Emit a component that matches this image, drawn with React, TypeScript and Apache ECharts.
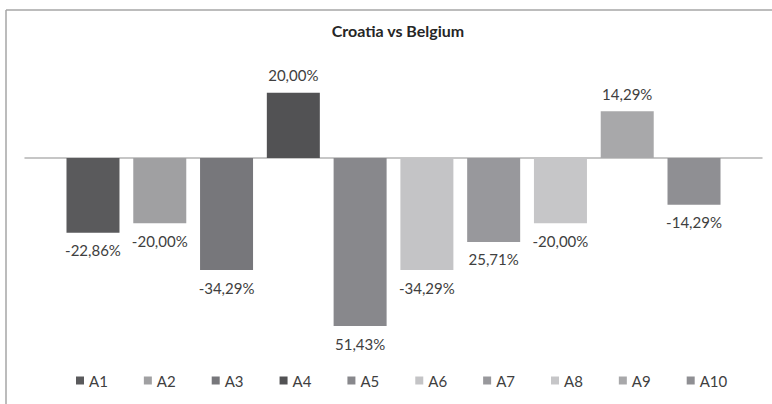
import React, { useEffect, useRef } from "react";
import * as echarts from "echarts";

const seriesNames = ["A1", "A2", "A3", "A4", "A5", "A6", "A7", "A8", "A9", "A10"];
const values = [-22.86, -20.0, -34.29, 20.0, -51.43, -34.29, -25.71, -20.0, 14.29, -14.29];
const labelTexts = ["-22,86%", "-20,00%", "-34,29%", "20,00%", "51,43%", "-34,29%", "25,71%", "-20,00%", "14,29%", "-14,29%"];
const colors = ["#5a5a5c", "#a0a0a2", "#77777b", "#525254", "#88888c", "#c4c4c6", "#98989c", "#c6c6c8", "#a8a8aa", "#8f8f93"];

const FONT = "Lato, 'Open Sans', sans-serif";

export default function App() {
  const ref = useRef<HTMLDivElement>(null);
  useEffect(() => {
    if (!ref.current) return;
    const chart = echarts.init(ref.current, undefined, { renderer: "svg" });
    chart.setOption({
      animation: false,
      backgroundColor: "#ffffff",
      title: {
        text: "Croatia vs Belgium",
        left: 393,
        textAlign: "center",
        top: 17,
        textStyle: { fontFamily: FONT, fontSize: 16, fontWeight: "bold", color: "#262626" },
      },
      legend: {
        top: 368,
        left: 71,
        icon: "rect",
        itemWidth: 8,
        itemHeight: 8,
        itemGap: 36,
        textStyle: { fontFamily: FONT, fontSize: 15, color: "#404040" },
        data: seriesNames,
      },
      grid: { left: 25, right: 10, top: 60, bottom: 50 },
      xAxis: {
        type: "category",
        data: [""],
        axisLine: { onZero: true, lineStyle: { color: "#b4b4b4", width: 1.5 } },
        axisTick: { show: false },
        axisLabel: { show: false },
      },
      yAxis: {
        type: "value",
        min: -60,
        max: 30,
        show: false,
        splitLine: { show: false },
      },
      graphic: [
        { type: "line", shape: { x1: 6, y1: 10, x2: 772, y2: 10 }, style: { stroke: "#a6a6a6", lineWidth: 1.5 } },
        { type: "line", shape: { x1: 6, y1: 10, x2: 6, y2: 404 }, style: { stroke: "#a6a6a6", lineWidth: 1.5 } },
      ],
      series: seriesNames.map((name, i) => ({
        name,
        type: "bar",
        data: [values[i]],
        barWidth: 53,
        barGap: "26%",
        itemStyle: { color: colors[i] },
        label: {
          show: true,
          position: values[i] >= 0 ? "top" : "bottom",
          distance: 10,
          formatter: () => labelTexts[i],
          fontFamily: FONT,
          fontSize: 15,
          color: "#404040",
        },
      })),
    });
    return () => chart.dispose();
  }, []);
  return <div ref={ref} style={{ position: "fixed", left: 0, top: 0, width: 772, height: 404 }} />;
}
